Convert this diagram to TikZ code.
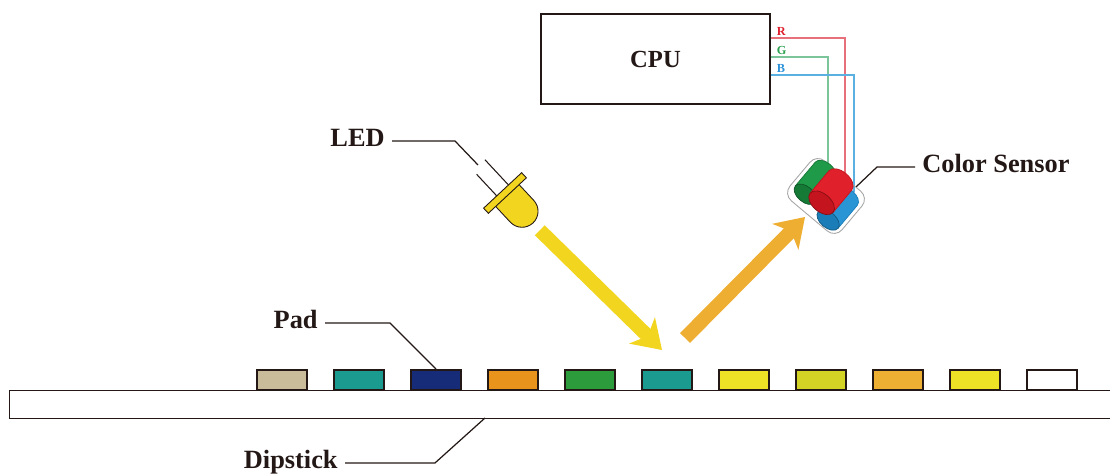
\documentclass[tikz,border=0pt]{standalone}
\usepackage{fontspec}
\setmainfont{Liberation Serif}
\usetikzlibrary{calc,arrows.meta}

\definecolor{ink}{HTML}{231815}
\definecolor{padtan}{HTML}{C9BC9B}
\definecolor{padteal}{HTML}{1B9B8F}
\definecolor{padnavy}{HTML}{172C78}
\definecolor{padorange}{HTML}{E8941C}
\definecolor{padgreen}{HTML}{2B9B3B}
\definecolor{padyellow}{HTML}{EEE226}
\definecolor{padlime}{HTML}{D3D325}
\definecolor{padamber}{HTML}{EDB033}
\definecolor{ledyellow}{HTML}{F2D51E}
\definecolor{beamorange}{HTML}{EDAE32}
\definecolor{tagR}{HTML}{E0202E}
\definecolor{tagG}{HTML}{2AA050}
\definecolor{tagB}{HTML}{2A90D8}
\definecolor{wireR}{HTML}{E8707A}
\definecolor{wireG}{HTML}{7CC49A}
\definecolor{wireB}{HTML}{5AB0E0}
\definecolor{cylG}{HTML}{1E9A48}
\definecolor{cylGface}{HTML}{157A36}
\definecolor{cylR}{HTML}{E0202A}
\definecolor{cylRface}{HTML}{C4141E}
\definecolor{cylB}{HTML}{2A95D5}
\definecolor{cylBface}{HTML}{1A7DB8}

\tikzset{
  tag/.style={font=\bfseries\fontsize{15}{17}\selectfont, text=ink, inner sep=4pt,
    text height=0.66em, text depth=0pt},
  lead/.style={draw=ink, line width=0.7pt},
  pad/.style={draw=ink, line width=1.1pt, minimum width=1cm, minimum height=0.4cm, inner sep=0pt},
  wire/.style={draw=#1, line width=0.6pt},
  rgb/.style={font=\bfseries\fontsize{7}{8}\selectfont, inner sep=1pt, xshift=0.08cm},
  beam/.style={draw=#1, line width=0.28cm,
    -{Stealth[length=0.56cm, width=0.74cm, inset=0.16cm, line width=0pt]}}
}

% one photodiode barrel, in the sensor's own frame
% #1 = u, #2 = back v, #3 = front v, #4 = radius, #5 = body, #6 = face
\newcommand{\barrel}[6]{%
  \fill[#5] (#1-#4,#2) rectangle (#1+#4,#3);
  \fill[#5] (#1,#2) ellipse[x radius=#4, y radius=0.6*#4];
  \draw[#6, line width=0.4pt] (#1-#4,#3) -- (#1-#4,#2)
    arc[start angle=180, end angle=360, x radius=#4, y radius=0.6*#4] -- (#1+#4,#3);
  \filldraw[fill=#6, draw=#6!70!black, line width=0.4pt] (#1,#3) ellipse[x radius=#4, y radius=0.6*#4];
}

\begin{document}
\begin{tikzpicture}[x=0.02cm,y=-0.02cm]
\clip (0,0) rectangle (1110,475);

% Dipstick
\node[draw=ink, line width=0.85pt, minimum width=22.4cm, minimum height=0.56cm,
  inner sep=0pt, anchor=north west] (stick) at (9,390) {};
\coordinate (stickpt) at (485,418);

% Pads
\foreach \c [count=\i] in {padtan,padteal,padnavy,padorange,padgreen,padteal,
                           padyellow,padlime,padamber,padyellow,white} {
  \node[pad, fill=\c] (pad\i) at (205+77*\i,380) {};
}

% CPU and the three colour channels
\node[draw=ink, line width=0.85pt, minimum width=4.58cm, minimum height=1.8cm,
  font=\bfseries\fontsize{14}{16}\selectfont, text=ink] (cpu) at (655.5,59) {CPU};

\coordinate (rend) at (845,178);
\coordinate (gend) at (828,166);
\coordinate (bend) at (854,192);
\draw[wire=wireR] (cpu.east |- 0,38) -| (rend);
\draw[wire=wireG] (cpu.east |- 0,57) -| (gend);
\draw[wire=wireB] (cpu.east |- 0,75) -| (bend);
\node[rgb, text=tagR, anchor=south west] (rtag) at (cpu.east |- 0,38) {R};
\node[rgb, text=tagG, anchor=south west] (gtag) at (cpu.east |- 0,57) {G};
\node[rgb, text=tagB, anchor=south west] (btag) at (cpu.east |- 0,75) {B};

% Color sensor housing
\node[draw=gray!70, line width=0.5pt, rounded corners=6pt, minimum width=1.36cm,
  minimum height=1.04cm, rotate=-40] (sensor) at (826,196) {};
\begin{scope}[shift={(826,196)}, rotate=-40]
  \barrel{-17}{-19}{12}{13}{cylG}{cylGface}
  \barrel{17}{-13}{17}{13}{cylB}{cylBface}
  \barrel{1}{-21}{8}{15}{cylR}{cylRface}
\end{scope}

% LED
\begin{scope}[shift={(505,193)}, rotate=-47]
  \draw[ink, line width=0.6pt] (-3,-8) -- (-38,-8);
  \draw[ink, line width=0.6pt] (-3,8) -- (-33,8);
  \filldraw[fill=ledyellow, draw=ink, line width=0.5pt]
    (3,-16) -- (25,-16) arc[start angle=-90, end angle=90, radius=16] -- (3,16) -- cycle;
  \filldraw[fill=ledyellow, draw=ink, line width=0.5pt] (-3.5,-26) rectangle (3.5,26);
  \coordinate (ledtip) at (51,0);
\end{scope}
\coordinate (ledleg) at (478,165);

% Light path
\coordinate (hit) at (662,350);
\coordinate (bounce) at (685,338);
\coordinate (refl) at (805,217);
\draw[beam=ledyellow] (ledtip) -- (hit);
\draw[beam=beamorange] (bounce) -- (refl);

% Labels
\node[tag, anchor=east] (ledtag) at (392,141) {LED};
\draw[lead] (ledtag.east) -- ++(63,0) -- (ledleg);

\node[tag, anchor=west] (senstag) at (915,167) {Color Sensor};
\draw[lead] (senstag.west) -- ++(-38,0) -- ($(sensor.north)!0.5!(sensor.north east)$);

\node[tag, anchor=east] (padtag) at (325,323) {Pad};
\draw[lead] (padtag.east) -- ++(65,0) -- (pad3.north);

\node[tag, anchor=east] (sticktag) at (345,463) {Dipstick};
\draw[lead] (sticktag.east) -- ++(90,0) -- (stickpt);

\end{tikzpicture}
\end{document}
